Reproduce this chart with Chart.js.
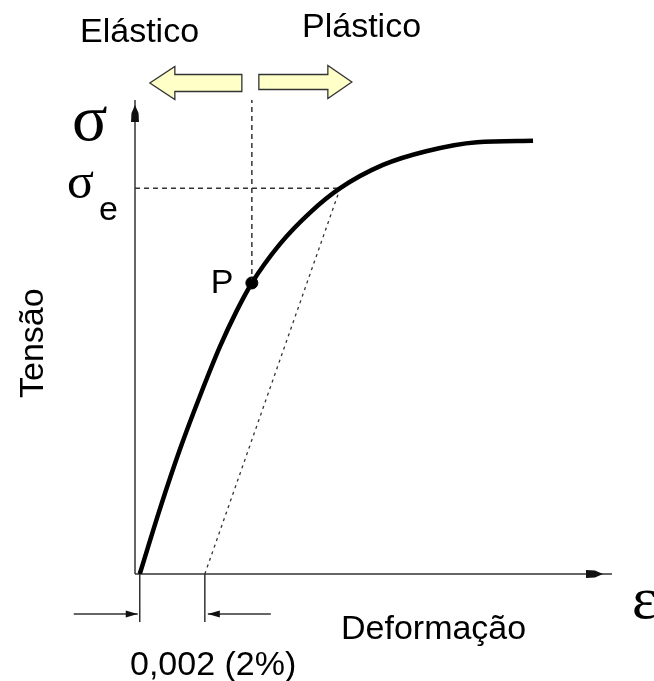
<!DOCTYPE html>
<html>
<head>
<meta charset="utf-8">
<script src="https://cdn.jsdelivr.net/npm/chart.js@4"></script>
<style>
html, body { margin: 0; padding: 0; background: #fff; }
#wrap { width: 654px; height: 681px; }
</style>
</head>
<body>
<div id="wrap"><canvas id="stressChart" width="654" height="681"></canvas></div>
<script>
// curva tensão x deformação (unidades relativas 0-100)
const strain = [1, 5.3, 9.5, 13.7, 17.9, 21.3, 24.6, 30.5, 36.8, 43.2, 52.2, 61.3, 72, 83.8];
const stress = [0, 13.9, 26.4, 37.6, 48, 55.3, 61.4, 69.6, 76.2, 81.4, 86.3, 89.2, 91.1, 91.4];
// reta paralela deslocada de 0,002
const offsetStrain = [14.7, 43.2];
const offsetStress = [0, 81.4];
const yieldStress = 81.4;
const pointP = { x: 24.6, y: 61.4 };
const axisMax = 100;

const FONT = '"Liberation Sans", Arial, sans-serif';
const SERIF = '"Liberation Serif", "DejaVu Serif", serif';

function line(ctx, x1, y1, x2, y2) {
    ctx.beginPath();
    ctx.moveTo(x1, y1);
    ctx.lineTo(x2, y2);
    ctx.stroke();
}

// ponta de seta pequena (tipo bloco)
function smallHead(ctx, tx, ty, dir) {
    ctx.save();
    ctx.translate(tx, ty);
    ctx.rotate(dir);
    ctx.beginPath();
    ctx.moveTo(0, 0);
    ctx.lineTo(-8, -3.5);
    ctx.lineTo(-17, -4);
    ctx.lineTo(-17, 4);
    ctx.lineTo(-8, 3.5);
    ctx.closePath();
    ctx.fill();
    ctx.restore();
}

function dimHead(ctx, tx, ty, dir) {
    ctx.save();
    ctx.translate(tx, ty);
    ctx.rotate(dir);
    ctx.beginPath();
    ctx.moveTo(0, 0);
    ctx.lineTo(-12, -3.5);
    ctx.lineTo(-12, 3.5);
    ctx.closePath();
    ctx.fill();
    ctx.restore();
}

// seta larga amarela
function fatArrow(ctx, tailX, tipX, cy, bodyH, headH, headLen) {
    const s = tipX > tailX ? 1 : -1;
    const baseX = tipX - s * headLen;
    ctx.beginPath();
    ctx.moveTo(tailX, cy - bodyH / 2);
    ctx.lineTo(baseX, cy - bodyH / 2);
    ctx.lineTo(baseX, cy - headH / 2);
    ctx.lineTo(tipX, cy);
    ctx.lineTo(baseX, cy + headH / 2);
    ctx.lineTo(baseX, cy + bodyH / 2);
    ctx.lineTo(tailX, cy + bodyH / 2);
    ctx.closePath();
    ctx.fillStyle = '#ffffc8';
    ctx.fill();
    ctx.strokeStyle = '#333';
    ctx.lineWidth = 1.3;
    ctx.stroke();
}

const decorPlugin = {
    id: 'decor',
    beforeDatasetsDraw(chart) {
        const { ctx, chartArea: a, scales: { x, y } } = chart;
        const x0 = x.getPixelForValue(0);
        const y0 = y.getPixelForValue(0);
        ctx.save();
        ctx.strokeStyle = '#333';
        ctx.fillStyle = '#111';
        ctx.lineWidth = 1.5;

        // eixos
        line(ctx, x0, y0, x0, a.top);
        line(ctx, x0, y0, a.right + 2, y0);
        smallHead(ctx, a.right - 7, y0, 0);
        smallHead(ctx, x0, a.top + 5, -Math.PI / 2);

        // marcas da deformação 0,002
        const t1 = x.getPixelForValue(strain[0]);
        const t2 = x.getPixelForValue(offsetStrain[0]);
        const dy = y0 + 40;
        ctx.lineWidth = 1.5;
        line(ctx, t1, y0, t1, y0 + 48);
        line(ctx, t2, y0, t2, y0 + 48);
        line(ctx, t1 - 66, dy, t1 - 2, dy);
        line(ctx, t2 + 3, dy, t2 + 66, dy);
        dimHead(ctx, t1 - 2, dy, 0);
        dimHead(ctx, t2 + 3, dy, Math.PI);

        // setas elástico / plástico
        const px = x.getPixelForValue(pointP.x);
        fatArrow(ctx, px - 10, px - 102, 83, 17, 33, 25);
        fatArrow(ctx, px + 7, px + 100, 82, 15, 33, 24);
        ctx.restore();
    },
    afterDraw(chart) {
        const { ctx, scales: { x, y } } = chart;
        ctx.save();
        ctx.fillStyle = '#000';
        ctx.textBaseline = 'alphabetic';
        ctx.font = '34px ' + FONT;
        ctx.fillText('Elástico', 80, 42);
        ctx.fillText('Plástico', 302, 37);
        const pPx = x.getPixelForValue(pointP.x);
        const pPy = y.getPixelForValue(pointP.y);
        ctx.fillText('P', pPx - 41, pPy + 10);
        ctx.fillText('Deformação', 341, 639);
        ctx.fillText('0,002 (2%)', 130, 675);

        ctx.save();
        ctx.translate(43, 398);
        ctx.rotate(-Math.PI / 2);
        ctx.fillText('Tensão', 0, 0);
        ctx.restore();

        ctx.font = '66px ' + SERIF;
        ctx.fillText('σ', 72, 140);
        ctx.font = '60px ' + SERIF;
        ctx.fillText('ε', 632, 618);
        ctx.font = '50px ' + SERIF;
        ctx.fillText('σ', 67, 198);
        ctx.font = '34px ' + FONT;
        ctx.fillText('e', 99, 220);
        ctx.restore();
    }
};

const ctx = document.getElementById('stressChart').getContext('2d');
new Chart(ctx, {
    type: 'scatter',
    data: {
        datasets: [
            {
                label: 'curva',
                data: strain.map((v, i) => ({ x: v, y: stress[i] })),
                showLine: true,
                borderColor: '#000',
                borderWidth: 4.5,
                pointRadius: 0,
                cubicInterpolationMode: 'monotone'
            },
            {
                label: 'offset',
                data: offsetStrain.map((v, i) => ({ x: v, y: offsetStress[i] })),
                showLine: true,
                borderColor: '#333',
                borderWidth: 1.3,
                borderDash: [3, 4],
                pointRadius: 0
            },
            {
                label: 'escoamento',
                data: [{ x: 0, y: yieldStress }, { x: offsetStrain[1], y: yieldStress }],
                showLine: true,
                borderColor: '#333',
                borderWidth: 1.5,
                borderDash: [5, 4],
                pointRadius: 0
            },
            {
                label: 'linha P',
                data: [{ x: pointP.x, y: pointP.y }, { x: pointP.x, y: axisMax }],
                showLine: true,
                borderColor: '#333',
                borderWidth: 1.5,
                borderDash: [5, 4],
                pointRadius: 0
            },
            {
                label: 'P',
                data: [pointP],
                pointRadius: 6,
                backgroundColor: '#000',
                borderColor: '#000'
            }
        ]
    },
    options: {
        responsive: false,
        animation: false,
        layout: { padding: { left: 135, right: 44, top: 100, bottom: 107 } },
        scales: {
            x: { type: 'linear', min: 0, max: axisMax, display: false },
            y: { type: 'linear', min: 0, max: axisMax, display: false }
        },
        plugins: { legend: { display: false }, tooltip: { enabled: false } }
    },
    plugins: [decorPlugin]
});
</script>
</body>
</html>
